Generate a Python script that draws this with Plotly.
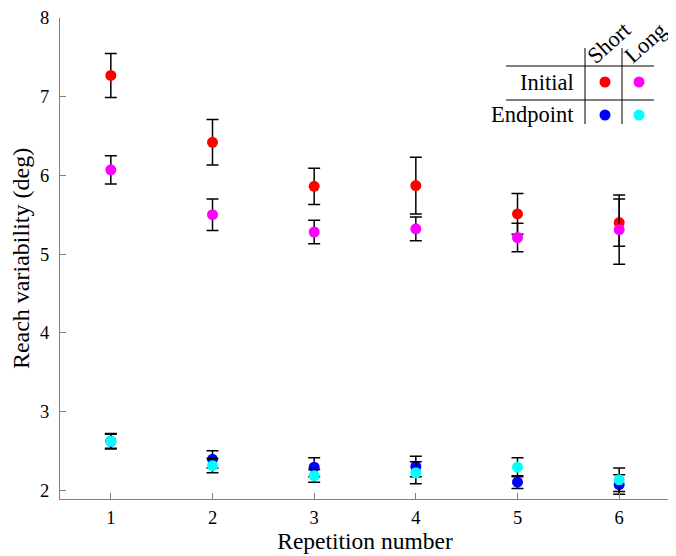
import plotly.graph_objects as go

repetition = [1, 2, 3, 4, 5, 6]
x_ticks = [1, 2, 3, 4, 5, 6]
y_ticks = [2, 3, 4, 5, 6, 7, 8]

initial_short = [7.27, 6.42, 5.86, 5.87, 5.51, 5.40]
initial_short_err = [0.28, 0.29, 0.23, 0.36, 0.26, 0.30]
initial_long = [6.07, 5.50, 5.28, 5.32, 5.21, 5.31]
initial_long_err = [0.18, 0.20, 0.15, 0.15, 0.18, 0.44]
endpoint_short = [2.62, 2.39, 2.29, 2.30, 2.10, 2.07]
endpoint_short_err = [0.09, 0.11, 0.12, 0.13, 0.08, 0.125]
endpoint_long = [2.62, 2.31, 2.18, 2.22, 2.29, 2.13]
endpoint_long_err = [0.10, 0.09, 0.08, 0.14, 0.12, 0.15]

series = [
    ("Initial Short", initial_short, initial_short_err, "#ff0000"),
    ("Initial Long", initial_long, initial_long_err, "#ff00ff"),
    ("Endpoint Short", endpoint_short, endpoint_short_err, "#0000ff"),
    ("Endpoint Long", endpoint_long, endpoint_long_err, "#00ffff"),
]

FONT = "Liberation Serif"

fig = go.Figure()
for name, vals, errs, col in series:
    fig.add_trace(go.Scatter(
        x=repetition, y=vals, mode="markers", name=name,
        marker=dict(color=col, size=11, line=dict(width=0)),
        error_y=dict(type="data", array=errs, visible=True,
                     color="black", thickness=1.5, width=6),
        showlegend=False,
    ))

# page body has an 8px margin: size the figure to fill the window after it
OFF = 8
W, H = 676 - OFF, 556 - OFF
L, R, T, B = 60 - OFF, 6, 18 - OFF, 57
PW, PH = W - L - R, H - T - B

def px(x):  # window pixel -> paper
    return (x - 60) / PW

def py(y):
    return (499 - y) / PH

shapes = []
for yy in [66, 100]:
    shapes.append(dict(type="line", xref="paper", yref="paper",
                       x0=px(506), x1=px(654), y0=py(yy), y1=py(yy),
                       line=dict(color="black", width=1)))
for xx in [585, 622]:
    shapes.append(dict(type="line", xref="paper", yref="paper",
                       x0=px(xx), x1=px(xx), y0=py(48), y1=py(124),
                       line=dict(color="black", width=1)))
legend_dots = [(605, 82, "#ff0000"), (639, 82, "#ff00ff"),
               (605, 115, "#0000ff"), (639, 115, "#00ffff")]
for xx, yy, col in legend_dots:
    shapes.append(dict(type="circle", xref="paper", yref="paper",
                       xsizemode="pixel", ysizemode="pixel",
                       xanchor=px(xx), yanchor=py(yy),
                       x0=-5.5, x1=5.5, y0=-5.5, y1=5.5,
                       fillcolor=col, line=dict(width=0)))

annotations = [
    dict(text="Initial", xref="paper", yref="paper", x=px(576), y=py(82),
         xanchor="right", yanchor="middle", showarrow=False,
         font=dict(family=FONT, size=22.5, color="black")),
    dict(text="Endpoint", xref="paper", yref="paper", x=px(576), y=py(115),
         xanchor="right", yanchor="middle", showarrow=False,
         font=dict(family=FONT, size=22.5, color="black")),
    dict(text="Short", xref="paper", yref="paper", x=px(609), y=py(42),
         xanchor="center", yanchor="middle", showarrow=False, textangle=-42,
         font=dict(family=FONT, size=22.5, color="black")),
    dict(text="Long", xref="paper", yref="paper", x=px(646), y=py(43),
         xanchor="center", yanchor="middle", showarrow=False, textangle=-42,
         font=dict(family=FONT, size=22.5, color="black")),
]

fig.update_layout(
    template="none",
    width=W, height=H,
    margin=dict(l=L, r=R, t=T, b=B, pad=0, autoexpand=False),
    paper_bgcolor="white", plot_bgcolor="white",
    font=dict(family=FONT, size=18.5, color="black"),
    shapes=shapes, annotations=annotations,
    xaxis=dict(range=[0.5, 6.5], tickvals=x_ticks, ticks="inside", ticklen=6,
               tickcolor="#808080", showline=True, linecolor="#808080",
               linewidth=1, showgrid=False, zeroline=False, automargin=False,
               title=dict(text="Repetition number", font=dict(size=23.5), standoff=4),
               tickfont=dict(size=18.5), ticklabelstandoff=2),
    yaxis=dict(range=[1.886, 8], tickvals=y_ticks, ticks="inside", ticklen=6,
               tickcolor="#808080", showline=True, linecolor="#808080",
               linewidth=1, showgrid=False, zeroline=False, automargin=False,
               title=dict(text="Reach variability (deg)", font=dict(size=24), standoff=6),
               tickfont=dict(size=18.5), ticklabelstandoff=6),
)

fig.write_html("out.html")
